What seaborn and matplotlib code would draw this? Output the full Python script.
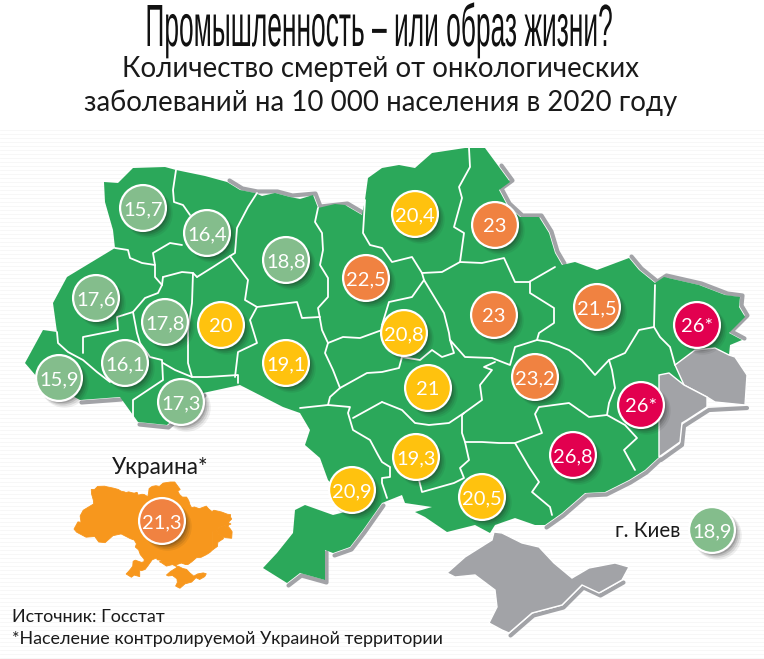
import matplotlib
matplotlib.use("Agg")
import matplotlib.pyplot as plt
import seaborn as sns
import pandas as pd
from matplotlib import font_manager as fm
from matplotlib.patches import Polygon
from matplotlib.transforms import Affine2D
from matplotlib.patheffects import AbstractPathEffect

# ---------- data ----------
labels = ["15,7","16,4","18,8","22,5","20,4","23","17,6","17,8","20","19,1","16,1","15,9","17,3",
          "20,8","21","23","21,5","26*","23,2","26*","26,8","19,3","20,9","20,5","21,3","18,9"]
values = [15.7,16.4,18.8,22.5,20.4,23,17.6,17.8,20,19.1,16.1,15.9,17.3,
          20.8,21,23,21.5,26,23.2,26,26.8,19.3,20.9,20.5,21.3,18.9]
bx = [143,207,286,366,415,495,96,165,221,286,125,59,181,404,428,494,597,697,535,641,573,416,352,482,162,712]
by = [208,233,260,278,214,225,298,322,325,363,363,378,402,333,388,315,307,325,377,405,455,457,490,497,521,530]

mainland = [(104,182),(118,183),(133,168),(165,167),(176,170),(205,176),(227,182),(240,190),(255,193),(262,196),(275,193),(290,197),(300,199),(313,195),
 (318,208),(335,204),(345,205),(362,215),(365,200),(368,178),(382,168),(399,165),(415,168),(432,153),(465,148),(485,148),(499,167),
 (510,182),(499,190),(507,205),(520,217),(539,217),(549,233),(555,253),(562,265),(575,262),(597,270),(629,258),(639,270),(655,283),
 (664,277),(699,285),(725,295),(740,297),(739,307),(745,317),(729,333),(742,340),(730,345),(729,355),(715,348),(695,350),(675,365),
 (684,385),(669,373),(659,375),(659,430),(659,457),(645,470),(629,480),(605,492),(585,493),(562,513),(545,525),(535,525),(515,518),
 (495,525),(490,533),(475,525),(447,532),(425,517),(415,512),(432,507),(405,503),(402,495),(382,503),(363,530),(350,547),(333,553),
 (325,550),(325,580),(300,573),(287,583),(263,568),(277,553),(293,533),(295,510),(305,505),(333,515),(345,512),(345,500),(328,480),(320,458),
 (305,445),(310,430),(300,413),(283,407),(240,385),(203,393),(167,425),(138,422),(120,397),(80,400),(37,377),(25,363),(43,330),
 (57,332),(53,303),(67,277),(115,248),(113,230),(105,202)]
luhansk_gray = [(675,365),(695,350),(715,348),(729,355),(735,357),(747,375),(745,405),(715,402),(707,397),(684,385)]
donetsk_gray = [(659,375),(669,373),(684,385),(707,397),(707,407),(687,420),(682,423),(680,442),(659,457),(659,430)]
crimea = [(447,573),(465,557),(492,540),(494,532),(502,533),(522,543),(539,547),(554,563),(572,578),(589,568),(615,563),(629,567),
 (622,580),(599,593),(582,585),(562,605),(532,613),(509,633),(502,630),(489,623),(497,607),(495,590),(475,575),(455,577)]

borders = [
 [(176,170),(173,190),(174,202),(183,205),(190,215)],
 [(182,245),(170,243),(153,253),(155,265),(155,277),(162,285),(158,293),(145,298),(133,312),(137,333),(140,343),(150,357),(162,360),(163,380),(133,400),(133,420)],
 [(115,248),(128,250),(130,258),(142,263),(155,265)],
 [(163,277),(182,272),(193,273),(192,303),(188,330),(188,363),(192,377)],
 [(162,285),(163,277)],
 [(197,277),(213,267),(230,256),(235,263),(248,280),(245,300),(257,307),(297,302),(302,318),(320,317)],
 [(193,273),(197,277)],
 [(257,193),(248,207),(237,228),(235,253),(230,256)],
 [(318,208),(315,222),(322,233),(323,250),(320,265),(328,278),(328,297),(318,308),(322,330),(328,343)],
 [(257,307),(250,320),(257,343),(238,352),(235,377)],
 [(328,343),(325,353),(333,370),(340,388),(330,397),(328,405),(300,408)],
 [(328,343),(343,337),(360,338),(382,330)],
 [(340,388),(367,373),(382,372),(399,368),(402,357),(420,360),(432,350),(442,357),(454,353),(450,340),(465,357),(492,358),(510,365),(515,347),(537,340),(549,342),(569,350),(582,360),(595,375),(609,360),(625,353),(639,330),(654,327)],
 [(328,405),(350,407),(348,413),(353,430),(370,440),(378,455),(382,462),(390,467),(390,477),(382,478),(382,483),(387,498)],
 [(365,200),(363,233),(370,245),(382,248),(392,262),(412,257),(422,273),(424,280),(444,313),(449,333),(450,340)],
 [(422,273),(442,272),(460,262),(464,233),(454,227),(462,198),(459,187),(470,167),(469,148)],
 [(460,262),(482,263),(504,258),(515,282),(529,282),(555,267)],
 [(530,282),(530,293),(554,308),(554,323),(539,333),(537,340)],
 [(655,285),(654,327),(660,337),(670,347),(675,365)],
 [(609,360),(612,370),(615,388),(609,403),(607,415),(589,417),(569,403),(539,407),(535,414),(542,433),(515,443),(499,443),(482,442),(465,442),(469,460),(460,468),(464,478),(454,483),(422,492),(419,480)],
 [(607,415),(625,425),(637,438),(624,450),(635,470)],
 [(515,443),(529,467),(539,482),(532,492),(550,507),(552,515)],
 [(424,280),(412,297),(389,302),(382,325)],
 [(465,442),(462,433),(462,415),(464,413),(482,400),(480,385),(492,370),(484,367),(495,362)],
 [(382,402),(402,410),(415,423),(429,425),(449,423),(464,413)],
 [(353,418),(382,402)],
 [(57,332),(58,343),(68,352),(83,360),(97,372),(110,382)],
 [(83,353),(83,337),(118,330),(117,317),(133,312)],
 [(163,363),(175,370),(192,377),(207,377),(238,375),(238,383)],
]
shade_ne = [(499,167),(510,182),(499,190),(507,205),(520,217),(539,217),(549,233),(555,253),(562,265)]
shade_n2 = [(629,258),(639,270),(655,283),(664,277),(699,285),(725,295),(740,297),(739,307),(745,317),(729,333),(742,340)]
shade_n3 = [(227,182),(240,190),(255,193),(275,193),(290,197),(313,195),(318,208),(345,205),(362,215)]
shade_s = [(659,457),(645,470),(629,480),(605,492),(585,493),(562,513),(545,525)]
shade_s2 = [(325,550),(325,580),(300,573),(287,583)]
shade_s3 = [(382,503),(363,530),(350,547),(333,553)]
shade_s4 = [(203,393),(167,425),(138,422)]
shade_s5 = [(120,397),(80,400)]
shade_d = [(659,457),(680,442),(682,423),(707,407),(745,405)]
shade_c = [(622,580),(599,593),(582,585),(562,605),(532,613),(509,633)]

title = "Промышленность – или образ жизни?"
subtitle1 = "Количество смертей от онкологических"
subtitle2 = "заболеваний на 10 000 населения в 2020 году"
inset_title = "Украина*"
kiev_label = "г. Киев"
source1 = "Источник: Госстат"
source2 = "*Население контролируемой Украиной территории"

GREEN = "#2BA85A"; GRAY = "#A2A3A7"; ORANGE = "#F7971D"
palette = {"low":"#84BD8C", "mid":"#FFC20E", "high":"#F08241", "top":"#E2004F"}

# ---------- set-up ----------
sns.set_theme(style="white")
avail = {f.name for f in fm.fontManager.ttflist}
narrow = "Liberation Sans Narrow" if "Liberation Sans Narrow" in avail else "Liberation Sans"
TXT = "Lato"
plt.rcParams["font.family"] = TXT

fig = plt.figure(figsize=(7.64, 6.59), dpi=100, facecolor="white")
ax = fig.add_axes([0, 0, 1, 1])
ax.set_xlim(0, 764); ax.set_ylim(659, 0); ax.axis("off")

for yy in range(130, 659, 4):
    ax.axhline(yy, color="#F7F7F7", lw=0.7, zorder=0)

def strip(pts, dx, dy, lw=3.0):
    xs, ys = zip(*pts)
    ax.plot([x+dx for x in xs], [y+dy for y in ys], color=GRAY, lw=lw, zorder=1, solid_capstyle="round")

for s in (shade_ne, shade_n2, shade_n3):
    strip(s, 2.5, -1.5)
for s in (shade_s, shade_s2, shade_s3, shade_s4, shade_s5, shade_c):
    strip(s, 1.5, 2.5)
strip(shade_d, 2, 3)

ax.add_patch(Polygon(mainland, closed=True, fc=GREEN, ec="none", zorder=2))
for g in (luhansk_gray, donetsk_gray, crimea):
    ax.add_patch(Polygon(g, closed=True, fc=GRAY, ec="white", lw=1.0, zorder=2))
for b in borders:
    xs, ys = zip(*b)
    ax.plot(xs, ys, color="white", lw=1.3, zorder=3, solid_joinstyle="round")

# inset
inset_tf = Affine2D().translate(-25, -148).scale(0.219).translate(74, 482) + ax.transData
for g in (mainland, luhansk_gray, donetsk_gray, crimea):
    ax.add_patch(Polygon(g, closed=True, fc=ORANGE, ec=ORANGE, lw=0.6, zorder=2, transform=inset_tf))

# bubbles
df = pd.DataFrame({"x": bx, "y": by, "value": values, "label": labels})
df["group"] = pd.cut(df["value"], [0, 19, 21.2, 25, 40], labels=["low", "mid", "high", "top"]).astype(str)

for off, grow, alpha in ((5, 1.12, 0.07), (4, 1.06, 0.10), (3, 1.0, 0.14), (2, 0.96, 0.18)):
    sh = df.assign(x=df["x"] + off, y=df["y"] + off)
    sns.scatterplot(data=sh, x="x", y="y", s=1090*grow, color="#1a1a1a", alpha=alpha, linewidth=0,
                    legend=False, ax=ax, zorder=4)
sns.scatterplot(data=df, x="x", y="y", hue="group", palette=palette, s=1090, edgecolor="white",
                linewidth=1.6, legend=False, ax=ax, zorder=5)
ax.set_xlim(0, 764); ax.set_ylim(659, 0); ax.axis("off")
for _, r in df.iterrows():
    ax.text(r["x"], r["y"], r["label"], color="white", fontsize=14.5, ha="center", va="center_baseline", zorder=6)

# texts
class Stretch(AbstractPathEffect):
    """Condenses the real text glyphs around its anchor (display coordinates)."""
    def __init__(self, sx, sy, cx, cy):
        super().__init__()
        self.sx, self.sy, self.cx, self.cy = sx, sy, cx, cy
    def draw_path(self, renderer, gc, tpath, affine, rgbFace=None):
        t = affine + Affine2D().translate(-self.cx, -self.cy).scale(self.sx, self.sy).translate(self.cx, self.cy)
        gc.set_linewidth(0)
        renderer.draw_path(gc, tpath, t, rgbFace)

ax.text(379, 46, title, fontsize=26, family=narrow, color="#111111", ha="center", va="baseline",
        path_effects=[Stretch(0.73, 1.65, 379, 659 - 46)], zorder=6)
ax.text(381, 77, subtitle1, fontsize=19.9, color="#1a1a1a", ha="center", va="baseline")
ax.text(381, 111, subtitle2, fontsize=19.9, color="#1a1a1a", ha="center", va="baseline")
ax.text(160, 474, inset_title, fontsize=16.3, color="#1a1a1a", ha="center", va="baseline")
ax.text(680, 537, kiev_label, fontsize=14.8, color="#1a1a1a", ha="right", va="baseline")
ax.text(12, 622, source1, fontsize=12.9, color="#1a1a1a", ha="left", va="baseline")
ax.text(12, 644, source2, fontsize=12.9, color="#1a1a1a", ha="left", va="baseline")

fig.savefig("out.png", dpi=100, facecolor="white")
